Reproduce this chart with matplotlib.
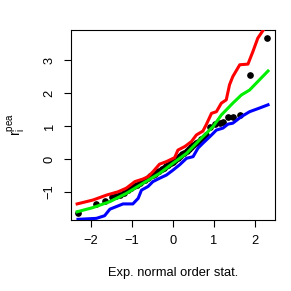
import numpy as np
import matplotlib.pyplot as plt

plt.rcParams['font.family'] = ['Liberation Sans', 'DejaVu Sans']
plt.rcParams['mathtext.fontset'] = 'custom'
plt.rcParams['mathtext.rm'] = 'Liberation Sans'

# observed residuals vs expected normal order statistics
obs_x = [-2.32, -1.89, -1.65, -1.50, -1.40, -1.30, -1.20, -1.10, -1.02, -0.95,
         -0.88, -0.81, -0.75, -0.68, -0.62, -0.56, -0.50, -0.44, -0.38, -0.33,
         -0.27, -0.22, -0.16, -0.11, -0.05, 0.00, 0.05, 0.11, 0.16, 0.22,
         0.27, 0.33, 0.38, 0.44, 0.50, 0.56, 0.62, 0.68, 0.75, 0.81,
         0.90, 1.02, 1.14, 1.22, 1.34, 1.46, 1.63, 1.87, 2.30]
obs_y = [-1.66, -1.37, -1.27, -1.16, -1.12, -1.10, -1.03, -0.96, -0.90, -0.83,
         -0.78, -0.72, -0.68, -0.63, -0.58, -0.53, -0.49, -0.45, -0.40, -0.36,
         -0.31, -0.27, -0.22, -0.18, -0.12, -0.08, -0.03, 0.03, 0.08, 0.14,
         0.19, 0.25, 0.31, 0.37, 0.42, 0.48, 0.53, 0.60, 0.66, 0.72,
         0.96, 1.06, 1.09, 1.14, 1.29, 1.29, 1.34, 2.56, 3.68]

# upper envelope
up_x = [-2.34, -1.95, -1.62, -1.34, -1.14, -0.93, -0.73, -0.61, -0.49, -0.33,
        -0.16, 0.04, 0.12, 0.29, 0.45, 0.57, 0.73, 0.81, 0.94, 1.06,
        1.18, 1.30, 1.38, 1.46, 1.63, 1.83, 1.95, 2.07, 2.20, 2.32]
up_y = [-1.37, -1.25, -1.10, -1.00, -0.89, -0.69, -0.61, -0.54, -0.39, -0.16,
        -0.08, 0.04, 0.27, 0.38, 0.53, 0.73, 0.85, 1.04, 1.39, 1.44,
        1.70, 1.80, 2.26, 2.51, 2.87, 2.89, 3.27, 3.68, 3.92, 4.25]

# median
mid_x = [-2.34, -1.95, -1.54, -1.14, -0.73, -0.33, 0.00, 0.33, 0.65, 0.98,
         1.18, 1.46, 1.67, 1.87, 2.11, 2.32]
mid_y = [-1.61, -1.48, -1.30, -1.05, -0.74, -0.44, -0.13, 0.17, 0.58, 0.99,
         1.34, 1.70, 1.95, 2.10, 2.41, 2.68]

# lower envelope
lo_x = [-2.32, -1.87, -1.67, -1.54, -1.38, -1.22, -0.98, -0.85, -0.77, -0.61,
        -0.49, -0.33, -0.16, 0.00, 0.16, 0.33, 0.49, 0.61, 0.73, 0.90,
        1.06, 1.22, 1.34, 1.46, 1.67, 1.87, 2.11, 2.32]
lo_y = [-1.84, -1.81, -1.73, -1.53, -1.45, -1.37, -1.37, -1.20, -0.95, -0.84,
        -0.69, -0.59, -0.49, -0.34, -0.18, 0.02, 0.07, 0.33, 0.48, 0.68,
        0.88, 0.94, 1.06, 1.09, 1.29, 1.44, 1.55, 1.65]

fig = plt.figure(figsize=(2.91, 2.91), dpi=100)
ax = fig.add_axes([0.244, 0.244, 0.701, 0.653])

ax.plot(obs_x, obs_y, 'o', color='black', markersize=3.8, zorder=2)
ax.plot(up_x, up_y, color='#ff0000', lw=2.2, zorder=3)
ax.plot(mid_x, mid_y, color='#00ee00', lw=2.2, zorder=3)
ax.plot(lo_x, lo_y, color='#0000ff', lw=2.2, zorder=3)

ax.set_xlim(-2.49, 2.49)
ax.set_ylim(-1.86, 3.93)
ax.set_xticks([-2, -1, 0, 1, 2])
ax.set_yticks([-1, 0, 1, 2, 3])
ax.set_xticklabels(['\u22122', '\u22121', '0', '1', '2'])
ax.set_yticklabels(['\u22121', '0', '1', '2', '3'], rotation=90, va='center')
ax.tick_params(direction='out', length=5, width=0.8, labelsize=9.3, pad=6)
for s in ax.spines.values():
    s.set_linewidth(0.8)

ax.set_xlabel('Exp. normal order stat.', fontsize=9.3, labelpad=14)
ax.set_ylabel(r'$\mathrm{r}_\mathrm{i}^\mathrm{pea}$', fontsize=10, labelpad=12)

fig.savefig('out.png', dpi=100)
